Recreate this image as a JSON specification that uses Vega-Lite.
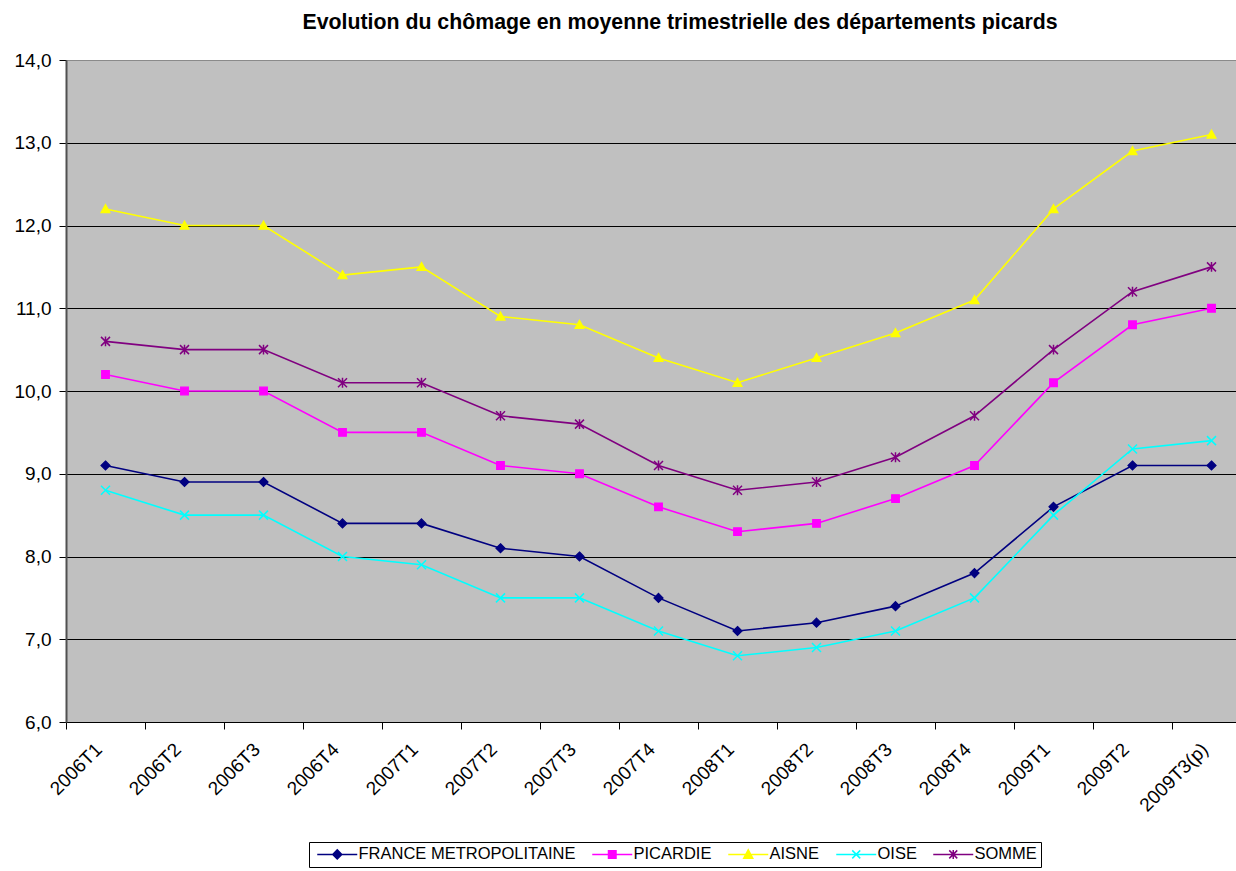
{
  "$schema": "https://vega.github.io/schema/vega-lite/v6.json",
  "width": 1170,
  "height": 662,
  "autosize": {"type": "none"},
  "padding": {"left": 66, "top": 60, "right": 0, "bottom": 149},
  "background": "white",
  "title": {
    "text": "Evolution du chômage en moyenne trimestrielle des départements picards",
    "font": "Liberation Sans",
    "fontSize": 21.3,
    "fontWeight": "bold",
    "color": "black",
    "anchor": "middle",
    "dx": 29,
    "offset": 18
  },
  "config": {
    "view": {"fill": "#C0C0C0", "stroke": "#8a8a8a", "strokeWidth": 1},
    "font": "Liberation Sans"
  },
  "data": {
    "values": [
      {"q": "2006T1", "s": "FRANCE METROPOLITAINE", "v": 9.1},
      {"q": "2006T2", "s": "FRANCE METROPOLITAINE", "v": 8.9},
      {"q": "2006T3", "s": "FRANCE METROPOLITAINE", "v": 8.9},
      {"q": "2006T4", "s": "FRANCE METROPOLITAINE", "v": 8.4},
      {"q": "2007T1", "s": "FRANCE METROPOLITAINE", "v": 8.4},
      {"q": "2007T2", "s": "FRANCE METROPOLITAINE", "v": 8.1},
      {"q": "2007T3", "s": "FRANCE METROPOLITAINE", "v": 8.0},
      {"q": "2007T4", "s": "FRANCE METROPOLITAINE", "v": 7.5},
      {"q": "2008T1", "s": "FRANCE METROPOLITAINE", "v": 7.1},
      {"q": "2008T2", "s": "FRANCE METROPOLITAINE", "v": 7.2},
      {"q": "2008T3", "s": "FRANCE METROPOLITAINE", "v": 7.4},
      {"q": "2008T4", "s": "FRANCE METROPOLITAINE", "v": 7.8},
      {"q": "2009T1", "s": "FRANCE METROPOLITAINE", "v": 8.6},
      {"q": "2009T2", "s": "FRANCE METROPOLITAINE", "v": 9.1},
      {"q": "2009T3(p)", "s": "FRANCE METROPOLITAINE", "v": 9.1},
      {"q": "2006T1", "s": "PICARDIE", "v": 10.2},
      {"q": "2006T2", "s": "PICARDIE", "v": 10.0},
      {"q": "2006T3", "s": "PICARDIE", "v": 10.0},
      {"q": "2006T4", "s": "PICARDIE", "v": 9.5},
      {"q": "2007T1", "s": "PICARDIE", "v": 9.5},
      {"q": "2007T2", "s": "PICARDIE", "v": 9.1},
      {"q": "2007T3", "s": "PICARDIE", "v": 9.0},
      {"q": "2007T4", "s": "PICARDIE", "v": 8.6},
      {"q": "2008T1", "s": "PICARDIE", "v": 8.3},
      {"q": "2008T2", "s": "PICARDIE", "v": 8.4},
      {"q": "2008T3", "s": "PICARDIE", "v": 8.7},
      {"q": "2008T4", "s": "PICARDIE", "v": 9.1},
      {"q": "2009T1", "s": "PICARDIE", "v": 10.1},
      {"q": "2009T2", "s": "PICARDIE", "v": 10.8},
      {"q": "2009T3(p)", "s": "PICARDIE", "v": 11.0},
      {"q": "2006T1", "s": "AISNE", "v": 12.2},
      {"q": "2006T2", "s": "AISNE", "v": 12.0},
      {"q": "2006T3", "s": "AISNE", "v": 12.0},
      {"q": "2006T4", "s": "AISNE", "v": 11.4},
      {"q": "2007T1", "s": "AISNE", "v": 11.5},
      {"q": "2007T2", "s": "AISNE", "v": 10.9},
      {"q": "2007T3", "s": "AISNE", "v": 10.8},
      {"q": "2007T4", "s": "AISNE", "v": 10.4},
      {"q": "2008T1", "s": "AISNE", "v": 10.1},
      {"q": "2008T2", "s": "AISNE", "v": 10.4},
      {"q": "2008T3", "s": "AISNE", "v": 10.7},
      {"q": "2008T4", "s": "AISNE", "v": 11.1},
      {"q": "2009T1", "s": "AISNE", "v": 12.2},
      {"q": "2009T2", "s": "AISNE", "v": 12.9},
      {"q": "2009T3(p)", "s": "AISNE", "v": 13.1},
      {"q": "2006T1", "s": "OISE", "v": 8.8},
      {"q": "2006T2", "s": "OISE", "v": 8.5},
      {"q": "2006T3", "s": "OISE", "v": 8.5},
      {"q": "2006T4", "s": "OISE", "v": 8.0},
      {"q": "2007T1", "s": "OISE", "v": 7.9},
      {"q": "2007T2", "s": "OISE", "v": 7.5},
      {"q": "2007T3", "s": "OISE", "v": 7.5},
      {"q": "2007T4", "s": "OISE", "v": 7.1},
      {"q": "2008T1", "s": "OISE", "v": 6.8},
      {"q": "2008T2", "s": "OISE", "v": 6.9},
      {"q": "2008T3", "s": "OISE", "v": 7.1},
      {"q": "2008T4", "s": "OISE", "v": 7.5},
      {"q": "2009T1", "s": "OISE", "v": 8.5},
      {"q": "2009T2", "s": "OISE", "v": 9.3},
      {"q": "2009T3(p)", "s": "OISE", "v": 9.4},
      {"q": "2006T1", "s": "SOMME", "v": 10.6},
      {"q": "2006T2", "s": "SOMME", "v": 10.5},
      {"q": "2006T3", "s": "SOMME", "v": 10.5},
      {"q": "2006T4", "s": "SOMME", "v": 10.1},
      {"q": "2007T1", "s": "SOMME", "v": 10.1},
      {"q": "2007T2", "s": "SOMME", "v": 9.7},
      {"q": "2007T3", "s": "SOMME", "v": 9.6},
      {"q": "2007T4", "s": "SOMME", "v": 9.1},
      {"q": "2008T1", "s": "SOMME", "v": 8.8},
      {"q": "2008T2", "s": "SOMME", "v": 8.9},
      {"q": "2008T3", "s": "SOMME", "v": 9.2},
      {"q": "2008T4", "s": "SOMME", "v": 9.7},
      {"q": "2009T1", "s": "SOMME", "v": 10.5},
      {"q": "2009T2", "s": "SOMME", "v": 11.2},
      {"q": "2009T3(p)", "s": "SOMME", "v": 11.5}
    ]
  },
  "encoding": {
    "x": {
      "field": "q",
      "type": "ordinal",
      "sort": null,
      "scale": {"type": "band", "range": [0, 1185], "paddingInner": 0, "paddingOuter": 0},
      "axis": {
        "title": null,
        "grid": false,
        "tickBand": "extent",
        "tickSize": 7,
        "tickColor": "black",
        "domainColor": "black",
        "domainWidth": 1,
        "labelAngle": -45,
        "labelAlign": "right",
        "labelBaseline": "middle",
        "labelFont": "Liberation Sans",
        "labelFontSize": 19,
        "labelColor": "black",
        "labelPadding": 17,
        "labelOffset": -7,
        "labelOverlap": false
      }
    },
    "y": {
      "field": "v",
      "type": "quantitative",
      "scale": {"domain": [6, 14], "nice": false, "zero": false},
      "axis": {
        "title": null,
        "values": [6, 7, 8, 9, 10, 11, 12, 13, 14],
        "grid": true,
        "gridColor": {"condition": {"test": "datum.value === 14", "value": "#8a8a8a"}, "value": "black"},
        "gridWidth": 1,
        "domainColor": "#505050",
        "domainWidth": 2,
        "tickColor": "black",
        "tickSize": 7,
        "labelFont": "Liberation Sans",
        "labelFontSize": 19,
        "labelColor": "black",
        "labelPadding": 8,
        "labelExpr": "replace(format(datum.value, '.1f'), '.', ',')"
      }
    },
    "color": {
      "field": "s",
      "type": "nominal",
      "sort": null,
      "scale": {
        "domain": ["FRANCE METROPOLITAINE", "PICARDIE", "AISNE", "OISE", "SOMME"],
        "range": ["#000080", "#FF00FF", "#FFFF00", "#00FFFF", "#800080"]
      },
      "legend": {
        "title": null,
        "orient": "none",
        "legendX": 243,
        "legendY": 782,
        "direction": "horizontal",
        "columns": 5,
        "padding": 4,
        "strokeColor": "black",
        "fillColor": "white",
        "columnPadding": 12,
        "labelFont": "Liberation Sans",
        "labelFontSize": 16.5,
        "labelColor": "black",
        "labelLimit": 0,
        "symbolSize": 100,
        "symbolOffset": 16,
        "labelOffset": 13,
        "encode": {
          "symbols": {
            "update": {
              "shape": {"signal": "datum.value === 'FRANCE METROPOLITAINE' ? 'M-4,0L4,0M0,-0.9L0.9,0L0,0.9L-0.9,0Z' : datum.value === 'PICARDIE' ? 'M-4,0L4,0M-0.75,-0.75L0.75,-0.75L0.75,0.75L-0.75,0.75Z' : datum.value === 'AISNE' ? 'M-4,0L4,0M0,-0.9L0.9,0.75L-0.9,0.75Z' : datum.value === 'OISE' ? 'M-4,0L4,0M-0.8,-0.8L0.8,0.8M-0.8,0.8L0.8,-0.8' : 'M-4,0L4,0M-0.8,-0.8L0.8,0.8M-0.8,0.8L0.8,-0.8M0,-0.9L0,0.9'"},
              "fill": {"scale": "color", "field": "value"},
              "stroke": {"scale": "color", "field": "value"},
              "strokeWidth": {"value": 1.5},
              "opacity": {"value": 1},
              "fillOpacity": {"value": 1},
              "strokeOpacity": {"value": 1}
            }
          }
        }
      }
    }
  },
  "layer": [
    {"mark": {"type": "line", "strokeWidth": 1.6}},
    {
      "transform": [{"filter": "datum.s === 'FRANCE METROPOLITAINE'"}],
      "mark": {"type": "point", "shape": "M0,-1L1,0L0,1L-1,0Z", "filled": true, "size": 81, "stroke": "#000080", "strokeWidth": 1.2, "opacity": 1}
    },
    {
      "transform": [{"filter": "datum.s === 'PICARDIE'"}],
      "mark": {"type": "point", "shape": "M-0.85,-0.85L0.85,-0.85L0.85,0.85L-0.85,0.85Z", "filled": true, "size": 81, "stroke": "#FF00FF", "strokeWidth": 1.2, "opacity": 1}
    },
    {
      "transform": [{"filter": "datum.s === 'AISNE'"}],
      "mark": {"type": "point", "shape": "M0,-1L1,0.8L-1,0.8Z", "filled": true, "size": 81, "stroke": "#FFFF00", "strokeWidth": 1.2, "opacity": 1}
    },
    {
      "transform": [{"filter": "datum.s === 'OISE'"}],
      "mark": {"type": "point", "shape": "M-1,-1L1,1M-1,1L1,-1", "filled": true, "size": 81, "stroke": "#00FFFF", "strokeWidth": 1.5, "opacity": 1}
    },
    {
      "transform": [{"filter": "datum.s === 'SOMME'"}],
      "mark": {"type": "point", "shape": "M-1,-1L1,1M-1,1L1,-1M0,-1.1L0,1.1", "filled": true, "size": 81, "stroke": "#800080", "strokeWidth": 1.5, "opacity": 1}
    }
  ]
}
